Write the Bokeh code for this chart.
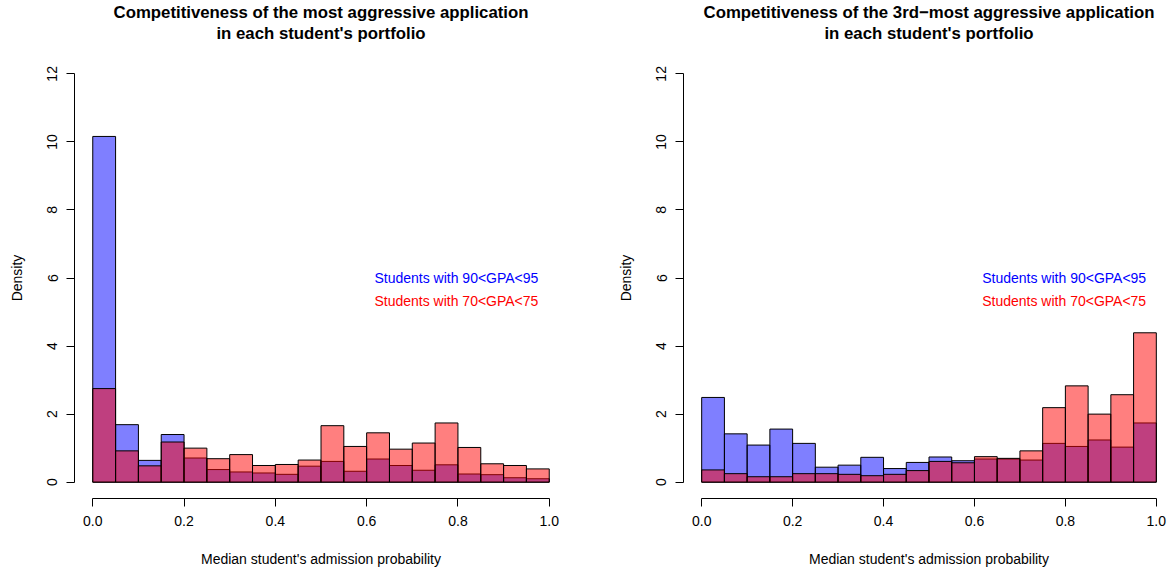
from bokeh.plotting import figure
from bokeh.layouts import row
from bokeh.models import FixedTicker, Title, ColumnDataSource
from bokeh.core.properties import value
from bokeh.embed import file_html
from bokeh.resources import INLINE

# ---- data ----
bin_edges = [round(i * 0.05, 2) for i in range(21)]

left_title = ["Competitiveness of the most aggressive application", "in each student's portfolio"]
right_title = ["Competitiveness of the 3rd\u2212most aggressive application", "in each student's portfolio"]

left_high_gpa = [10.16, 1.69, 0.64, 1.40, 0.71, 0.37, 0.30, 0.27, 0.23, 0.47,
                 0.61, 0.32, 0.68, 0.49, 0.35, 0.51, 0.24, 0.22, 0.13, 0.10]
left_low_gpa = [2.75, 0.92, 0.48, 1.18, 1.00, 0.69, 0.81, 0.49, 0.52, 0.65,
                1.66, 1.05, 1.45, 0.97, 1.15, 1.74, 1.02, 0.54, 0.49, 0.39]

right_high_gpa = [2.49, 1.42, 1.09, 1.56, 1.14, 0.44, 0.50, 0.73, 0.40, 0.58,
                  0.74, 0.63, 0.68, 0.68, 0.65, 1.14, 1.05, 1.24, 1.03, 1.74]
right_low_gpa = [0.36, 0.25, 0.16, 0.16, 0.25, 0.25, 0.23, 0.19, 0.23, 0.34,
                 0.61, 0.57, 0.75, 0.70, 0.92, 2.19, 2.83, 2.00, 2.57, 4.39]

legend_labels = ["Students with 90<GPA<95", "Students with 70<GPA<75"]
legend_colors = ["blue", "red"]
legend_x = [0.617, 0.617]
legend_y = [6.0, 5.32]

x_ticks = [0.0, 0.2, 0.4, 0.6, 0.8, 1.0]
x_tick_labels = ["0.0", "0.2", "0.4", "0.6", "0.8", "1.0"]
y_ticks = [0, 2, 4, 6, 8, 10, 12]

x_label = "Median student's admission probability"
y_label = "Density"

FONT = "Liberation Sans"


def make_panel(titles, high, low, border_left, border_right):
    p = figure(width=587, height=573,
               x_range=(-0.04, 1.04), y_range=(-0.48, 12.48),
               output_backend="svg", toolbar_location=None,
               min_border_left=border_left, min_border_right=border_right,
               min_border_top=57, min_border_bottom=75)
    p.outline_line_color = None
    p.xgrid.visible = False
    p.ygrid.visible = False
    p.background_fill_color = "white"
    p.border_fill_color = "white"

    p.title = Title(text=titles[0], align="center", text_font=FONT,
                    text_font_size="16.8px", text_font_style="bold",
                    text_color="black", standoff=0)
    # empty spacer title between the second title line and the plot
    p.add_layout(Title(text=" ", align="center", text_font=FONT,
                       text_font_size="8px", standoff=4), "above")
    p.add_layout(Title(text=titles[1], align="center", text_font=FONT,
                       text_font_size="16.8px", text_font_style="bold",
                       text_color="black", standoff=0), "above")

    left = bin_edges[:-1]
    right = bin_edges[1:]
    src_h = ColumnDataSource(dict(left=left, right=right, top=high))
    src_l = ColumnDataSource(dict(left=left, right=right, top=low))
    p.quad(left="left", right="right", bottom=0, top="top", source=src_h,
           fill_color="blue", fill_alpha=0.5, line_color="black", line_width=1)
    p.quad(left="left", right="right", bottom=0, top="top", source=src_l,
           fill_color="red", fill_alpha=0.5, line_color="black", line_width=1)

    src_t = ColumnDataSource(dict(x=legend_x, y=legend_y, text=legend_labels,
                                  color=legend_colors))
    p.text(x="x", y="y", text="text", text_color="color", source=src_t,
           text_font=value(FONT), text_font_size="14px",
           text_baseline="middle", text_align="left")

    for ax in (p.xaxis[0], p.yaxis[0]):
        ax.axis_line_color = "black"
        ax.major_tick_line_color = "black"
        ax.minor_tick_line_color = None
        ax.major_tick_in = 0
        ax.major_tick_out = 8
        ax.major_label_text_font = FONT
        ax.major_label_text_font_size = "14px"
        ax.major_label_text_color = "black"
        ax.major_label_standoff = 9
        ax.axis_label_text_font = FONT
        ax.axis_label_text_font_size = "14px"
        ax.axis_label_text_font_style = "normal"
        ax.axis_label_text_color = "black"

    p.xaxis.ticker = FixedTicker(ticks=x_ticks)
    p.xaxis.major_label_overrides = {t: s for t, s in zip(x_ticks, x_tick_labels)}
    p.xaxis.bounds = (0, 1)
    p.xaxis.axis_label = x_label
    p.xaxis.axis_label_standoff = 22

    p.yaxis.ticker = FixedTicker(ticks=y_ticks)
    p.yaxis.bounds = (0, 12)
    p.yaxis.major_label_orientation = "vertical"
    p.yaxis.axis_label = y_label
    p.yaxis.axis_label_standoff = 20
    return p


p1 = make_panel(left_title, left_high_gpa, left_low_gpa, 74, 20)
p2 = make_panel(right_title, right_high_gpa, right_low_gpa, 96, 0)

layout = row(p1, p2)
open("out.html", "w").write(file_html(layout, INLINE))
